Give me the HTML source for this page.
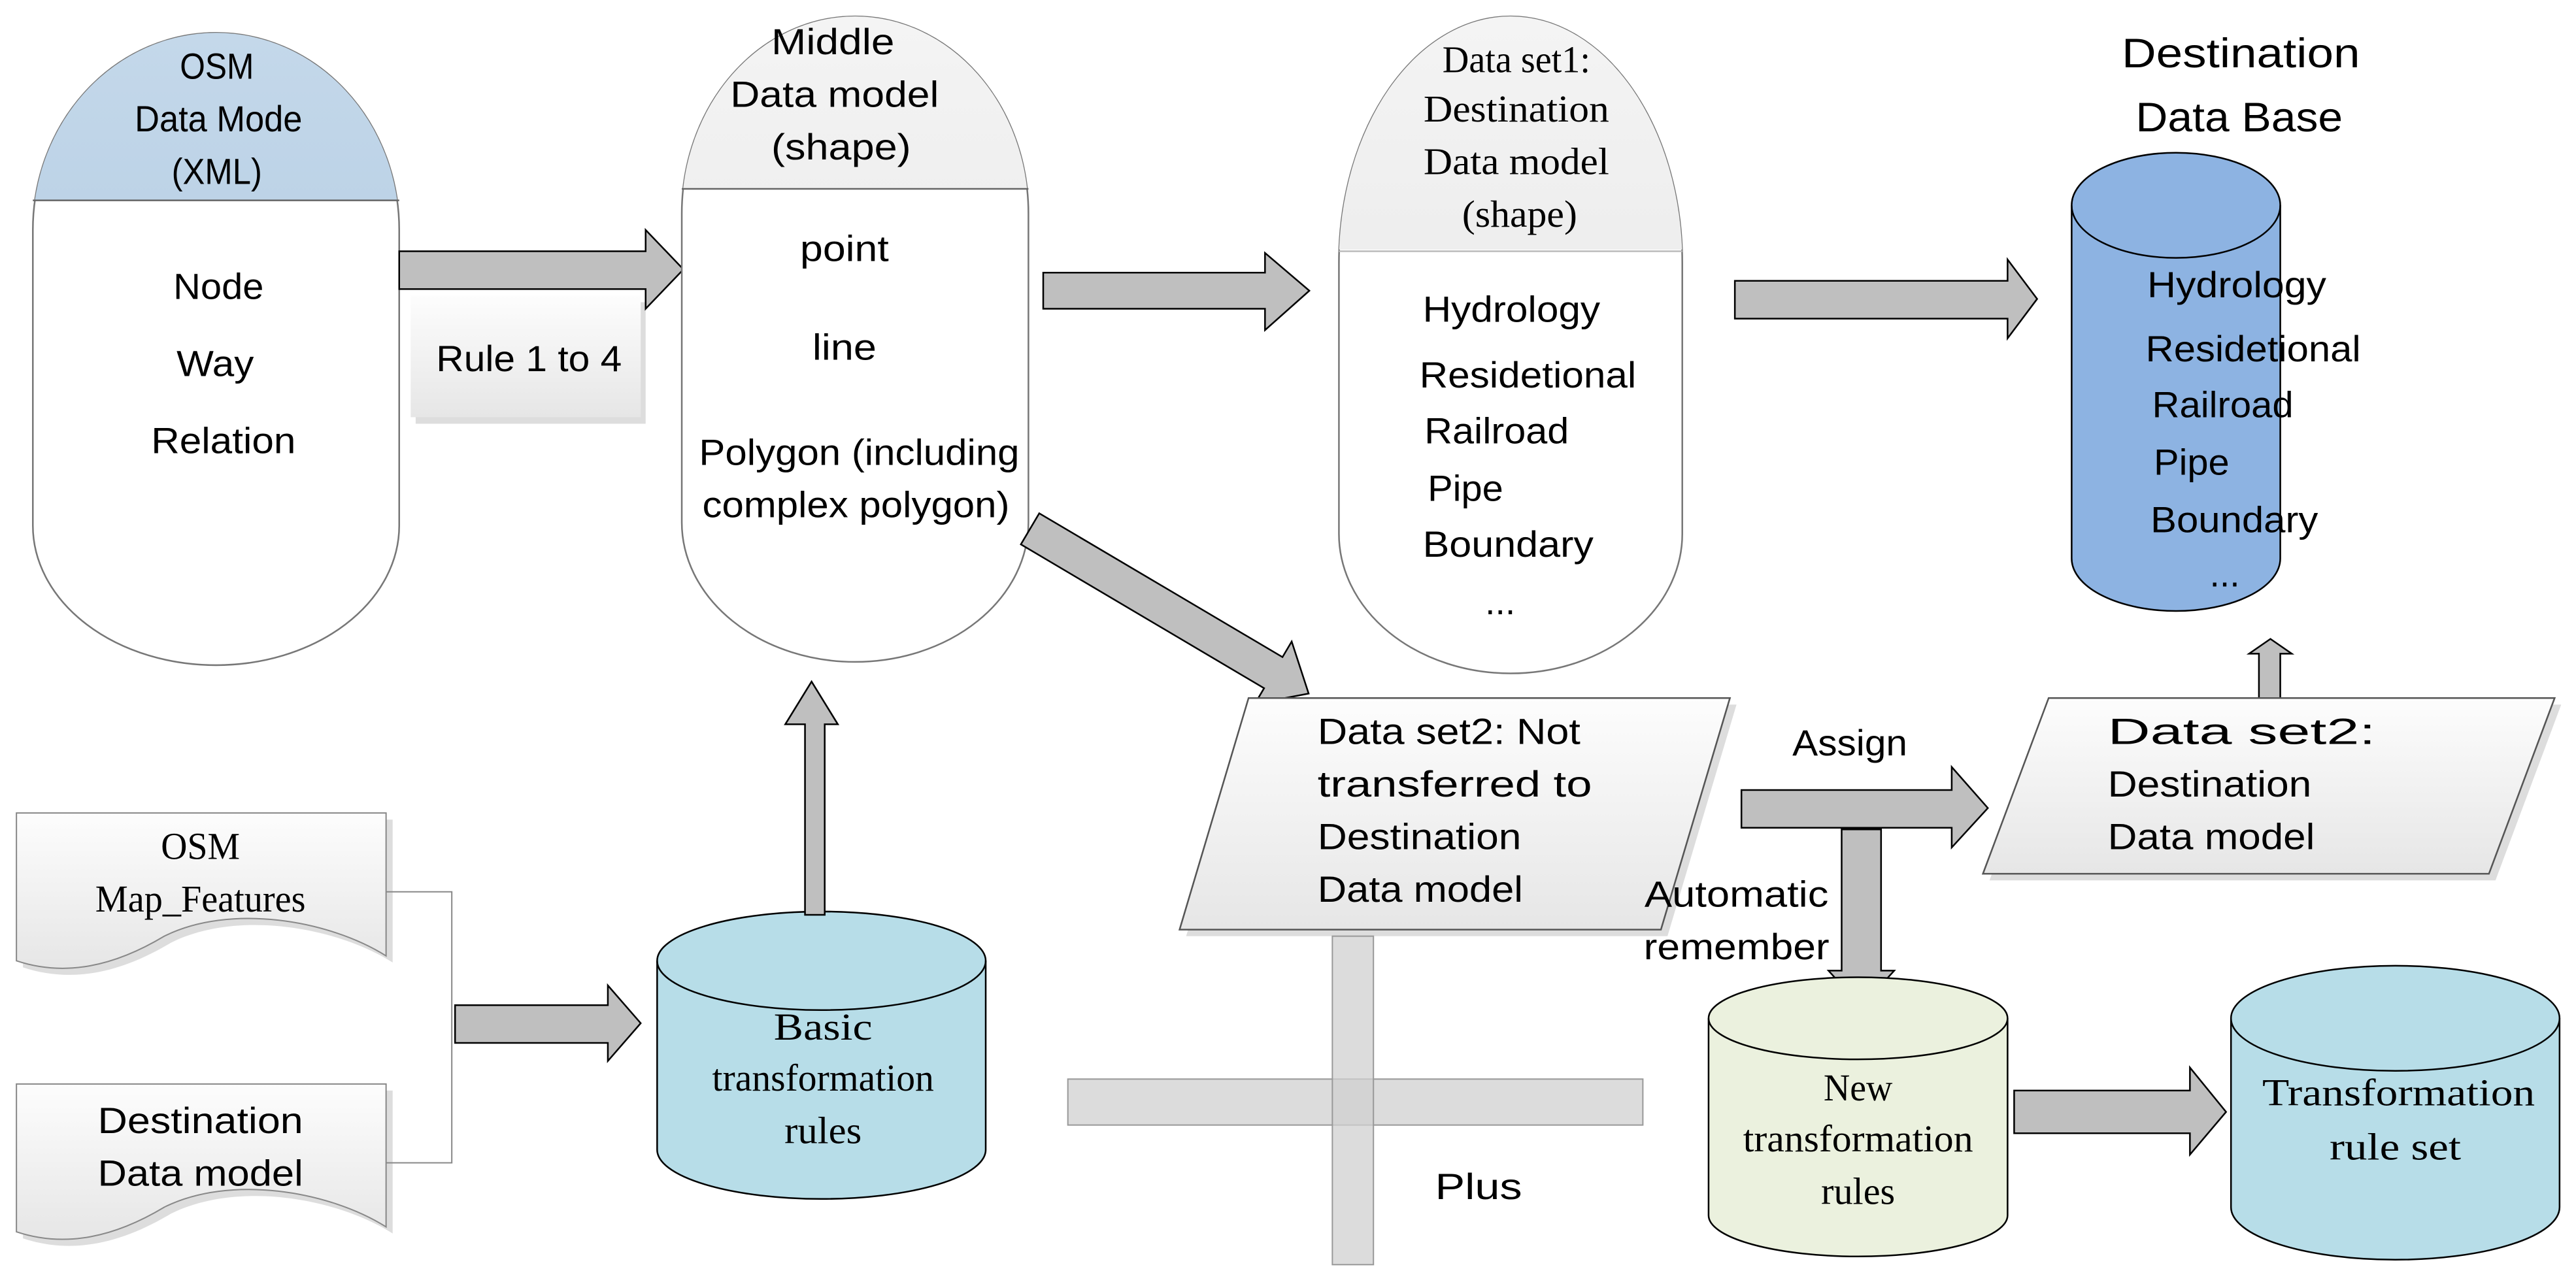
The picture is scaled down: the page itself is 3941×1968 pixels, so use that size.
<!DOCTYPE html>
<html><head><meta charset="utf-8"><style>
html,body{margin:0;padding:0;background:#fff;}
svg{display:block;}
text{font-family:"Liberation Sans Narrow","Liberation Sans",sans-serif;font-size:22px;fill:#000;}
.s{font-family:"Liberation Serif",serif;font-size:23px;}
.m{text-anchor:middle;}
</style></head><body>
<svg width="3941" height="1968" viewBox="0 0 1568 783" preserveAspectRatio="none" xmlns="http://www.w3.org/2000/svg">
<defs>
<linearGradient id="gb" x1="0" y1="0" x2="0" y2="1"><stop offset="0" stop-color="#c4d8ea"/><stop offset="1" stop-color="#a9c5de"/></linearGradient>
<linearGradient id="gg" x1="0" y1="0" x2="0" y2="1"><stop offset="0" stop-color="#f4f4f4"/><stop offset="1" stop-color="#e2e2e2"/></linearGradient>
<linearGradient id="gw" x1="0" y1="0" x2="0" y2="1"><stop offset="0" stop-color="#fdfdfd"/><stop offset="1" stop-color="#e6e6e6"/></linearGradient>
<clipPath id="c1"><rect x="0" y="0" width="300" height="122"/></clipPath>
<clipPath id="c2"><rect x="400" y="0" width="300" height="115"/></clipPath>
<clipPath id="c3"><rect x="800" y="0" width="300" height="152"/></clipPath>
</defs>

<!-- OSM pill -->
<path d="M20,140 A111.5,120 0 0 1 243,140 L243,320 A111.5,85 0 0 1 20,320 Z" fill="#fff" stroke="#777" stroke-width="1"/>
<path d="M20,140 A111.5,120 0 0 1 243,140 L243,320 A111.5,85 0 0 1 20,320 Z" fill="url(#gb)" clip-path="url(#c1)"/>
<line x1="20" y1="122" x2="243" y2="122" stroke="#666"/>
<text class="m" x="132" y="48" textLength="45" lengthAdjust="spacingAndGlyphs">OSM</text>
<text class="m" x="133" y="80" textLength="102" lengthAdjust="spacingAndGlyphs">Data Mode</text>
<text class="m" x="132" y="112" textLength="55" lengthAdjust="spacingAndGlyphs">(XML)</text>
<text class="m" x="133" y="182" textLength="55" lengthAdjust="spacingAndGlyphs">Node</text>
<text class="m" x="131" y="229" textLength="47" lengthAdjust="spacingAndGlyphs">Way</text>
<text class="m" x="136" y="276" textLength="88" lengthAdjust="spacingAndGlyphs">Relation</text>

<!-- Rule box -->
<rect x="253" y="184" width="140" height="74" fill="#ddd"/>
<rect x="250" y="180" width="140" height="74" fill="url(#gw)"/>
<text class="m" x="322" y="226" textLength="113" lengthAdjust="spacingAndGlyphs">Rule 1 to 4</text>
<polygon points="243,153 393,153 393,140 416,164 393,188 393,176 243,176" fill="#bfbfbf" stroke="#000"/>

<!-- Middle pill -->
<path d="M415,130 A105.5,120 0 0 1 626,130 L626,318 A105.5,85 0 0 1 415,318 Z" fill="#fff" stroke="#777"/>
<path d="M415,130 A105.5,120 0 0 1 626,130 L626,318 A105.5,85 0 0 1 415,318 Z" fill="url(#gg)" clip-path="url(#c2)"/>
<line x1="415" y1="115" x2="626" y2="115" stroke="#666"/>
<text class="m" x="507" y="33" textLength="75" lengthAdjust="spacingAndGlyphs">Middle</text>
<text class="m" x="508" y="65" textLength="127" lengthAdjust="spacingAndGlyphs">Data model</text>
<text class="m" x="512" y="97" textLength="85" lengthAdjust="spacingAndGlyphs">(shape)</text>
<text class="m" x="514" y="159" textLength="54" lengthAdjust="spacingAndGlyphs">point</text>
<text class="m" x="514" y="219" textLength="39" lengthAdjust="spacingAndGlyphs">line</text>
<text class="m" x="523" y="283" textLength="195" lengthAdjust="spacingAndGlyphs">Polygon (including</text>
<text class="m" x="521" y="315" textLength="187" lengthAdjust="spacingAndGlyphs">complex polygon)</text>

<polygon points="635,166 770,166 770,154 797,177 770,201 770,188 635,188" fill="#bfbfbf" stroke="#000"/>

<!-- Data set1 pill -->
<path d="M815,160 A104.5,150 0 0 1 1024,160 L1024,325 A104.5,85 0 0 1 815,325 Z" fill="#fff" stroke="#777"/>
<path d="M815,160 A104.5,150 0 0 1 1024,160 L1024,325 A104.5,85 0 0 1 815,325 Z" fill="url(#gg)" clip-path="url(#c3)"/>
<line x1="815" y1="153" x2="1024" y2="153" stroke="#bbb"/>
<text class="m s" x="923" y="44" textLength="90" lengthAdjust="spacingAndGlyphs">Data set1:</text>
<text class="m s" x="923" y="74" textLength="113" lengthAdjust="spacingAndGlyphs">Destination</text>
<text class="m s" x="923" y="106" textLength="113" lengthAdjust="spacingAndGlyphs">Data model</text>
<text class="m s" x="925" y="138" textLength="70" lengthAdjust="spacingAndGlyphs">(shape)</text>
<text x="866" y="196" textLength="108" lengthAdjust="spacingAndGlyphs">Hydrology</text>
<text x="864" y="236" textLength="132" lengthAdjust="spacingAndGlyphs">Residetional</text>
<text x="867" y="270" textLength="88" lengthAdjust="spacingAndGlyphs">Railroad</text>
<text x="869" y="305" textLength="46" lengthAdjust="spacingAndGlyphs">Pipe</text>
<text x="866" y="339" textLength="104" lengthAdjust="spacingAndGlyphs">Boundary</text>
<text x="904" y="374">...</text>

<polygon points="1056,171 1222,171 1222,158 1240,182 1222,206 1222,194 1056,194" fill="#bfbfbf" stroke="#000"/>

<!-- Destination DB -->
<text class="m" x="1364" y="41" style="font-size:25px" textLength="145" lengthAdjust="spacingAndGlyphs">Destination</text>
<text class="m" x="1363" y="80" style="font-size:25px" textLength="126" lengthAdjust="spacingAndGlyphs">Data Base</text>
<path d="M1261,125 A63.5,32 0 0 1 1388,125 L1388,340 A63.5,32 0 0 1 1261,340 Z" fill="#8db3e2" stroke="#000"/>
<path d="M1261,125 A63.5,32 0 0 0 1388,125" fill="none" stroke="#000"/>
<text x="1307" y="181" textLength="109" lengthAdjust="spacingAndGlyphs">Hydrology</text>
<text x="1306" y="220" textLength="131" lengthAdjust="spacingAndGlyphs">Residetional</text>
<text x="1310" y="254" textLength="86" lengthAdjust="spacingAndGlyphs">Railroad</text>
<text x="1311" y="289" textLength="46" lengthAdjust="spacingAndGlyphs">Pipe</text>
<text x="1309" y="324" textLength="102" lengthAdjust="spacingAndGlyphs">Boundary</text>
<text x="1345" y="357">...</text>
<polygon points="1375,425 1375,398 1369,398 1382,389 1395,398 1388,398 1388,425" fill="#bfbfbf" stroke="#000"/>

<!-- diag arrow -->
<g transform="translate(627,322) rotate(30.6)">
<polygon points="0,-11 172,-11 172,-22 197,0 172,22 172,11 0,11" fill="#bfbfbf" stroke="#000"/>
</g>

<!-- Data set2 left -->
<polygon points="764,429 1057,429 1015,570 722,570" fill="#ddd"/>
<polygon points="760,425 1053,425 1011,566 718,566" fill="url(#gw)" stroke="#555"/>
<text x="802" y="453" textLength="160" lengthAdjust="spacingAndGlyphs">Data set2: Not</text>
<text x="802" y="485" textLength="167" lengthAdjust="spacingAndGlyphs">transferred to</text>
<text x="802" y="517" textLength="124" lengthAdjust="spacingAndGlyphs">Destination</text>
<text x="802" y="549" textLength="125" lengthAdjust="spacingAndGlyphs">Data model</text>

<!-- Data set2 right -->
<polygon points="1251,429 1559,429 1519,536 1211,536" fill="#ddd"/>
<polygon points="1247,425 1555,425 1515,532 1207,532" fill="url(#gw)" stroke="#555"/>
<text x="1283" y="453" textLength="163" lengthAdjust="spacingAndGlyphs">Data set2:</text>
<text x="1283" y="485" textLength="124" lengthAdjust="spacingAndGlyphs">Destination</text>
<text x="1283" y="517" textLength="126" lengthAdjust="spacingAndGlyphs">Data model</text>

<!-- Assign arrow -->
<text class="m" x="1126" y="460" textLength="70" lengthAdjust="spacingAndGlyphs">Assign</text>
<polygon points="1060,481 1188,481 1188,467 1210,492 1188,516 1188,504 1060,504" fill="#bfbfbf" stroke="#000"/>
<polygon points="1121,505 1145,505 1145,591 1153,591 1133,613 1113,591 1121,591" fill="#bfbfbf" stroke="#000"/>
<text class="m" x="1057" y="552" textLength="112" lengthAdjust="spacingAndGlyphs">Automatic</text>
<text class="m" x="1057" y="584" textLength="113" lengthAdjust="spacingAndGlyphs">remember</text>

<!-- New rules cylinder -->
<path d="M1040,620 A91,25 0 0 1 1222,620 L1222,740 A91,25 0 0 1 1040,740 Z" fill="#ebf1de" stroke="#000"/>
<path d="M1040,620 A91,25 0 0 0 1222,620" fill="none" stroke="#000"/>
<text class="m s" x="1131" y="670" textLength="42" lengthAdjust="spacingAndGlyphs">New</text>
<text class="m s" x="1131" y="701" textLength="140" lengthAdjust="spacingAndGlyphs">transformation</text>
<text class="m s" x="1131" y="733" textLength="45" lengthAdjust="spacingAndGlyphs">rules</text>

<polygon points="1226,664 1333,664 1333,650 1355,677 1333,703 1333,690 1226,690" fill="#bfbfbf" stroke="#000"/>

<!-- Transformation rule set -->
<path d="M1358,620 A100,32 0 0 1 1558,620 L1558,735 A100,32 0 0 1 1358,735 Z" fill="#b7dde8" stroke="#000"/>
<path d="M1358,620 A100,32 0 0 0 1558,620" fill="none" stroke="#000"/>
<text class="m s" x="1460" y="673" textLength="166" lengthAdjust="spacingAndGlyphs">Transformation</text>
<text class="m s" x="1458" y="706" textLength="80" lengthAdjust="spacingAndGlyphs">rule set</text>

<!-- Plus -->
<rect x="650" y="657" width="350" height="28" fill="#d0d0d0" fill-opacity="0.75" stroke="#999" stroke-width="0.8"/>
<rect x="811" y="570" width="25" height="200" fill="#d0d0d0" fill-opacity="0.75" stroke="#999" stroke-width="0.8"/>
<text class="m" x="900" y="730" textLength="53" lengthAdjust="spacingAndGlyphs">Plus</text>

<!-- Basic cylinder -->
<path d="M400,585 A100,30 0 0 1 600,585 L600,700 A100,30 0 0 1 400,700 Z" fill="#b7dde8" stroke="#000"/>
<path d="M400,585 A100,30 0 0 0 600,585" fill="none" stroke="#000"/>
<text class="m s" x="501" y="633" textLength="60" lengthAdjust="spacingAndGlyphs">Basic</text>
<text class="m s" x="501" y="664" textLength="135" lengthAdjust="spacingAndGlyphs">transformation</text>
<text class="m s" x="501" y="696" textLength="47" lengthAdjust="spacingAndGlyphs">rules</text>
<polygon points="490,557 490,441 478,441 494,415 510,441 502,441 502,557" fill="#bfbfbf" stroke="#000"/>

<!-- docs -->
<path d="M14,499 H239 V586 C204,564 144,554 104,574 C74,592 44,599 14,589 Z" fill="#ddd"/>
<path d="M10,495 H235 V582 C200,560 140,550 100,570 C70,588 40,595 10,585 Z" fill="url(#gw)" stroke="#888" stroke-width="0.8"/>
<text class="m s" x="122" y="523" textLength="48" lengthAdjust="spacingAndGlyphs">OSM</text>
<text class="m s" x="122" y="555" textLength="128" lengthAdjust="spacingAndGlyphs">Map_Features</text>
<path d="M14,664 H239 V751 C204,729 144,719 104,739 C74,757 44,764 14,754 Z" fill="#ddd"/>
<path d="M10,660 H235 V747 C200,725 140,715 100,735 C70,753 40,760 10,750 Z" fill="url(#gw)" stroke="#888" stroke-width="0.8"/>
<text class="m" x="122" y="690" textLength="125" lengthAdjust="spacingAndGlyphs">Destination</text>
<text class="m" x="122" y="722" textLength="125" lengthAdjust="spacingAndGlyphs">Data model</text>
<polyline points="235,543 275,543 275,708 235,708" fill="none" stroke="#888" stroke-width="0.8"/>
<polygon points="277,612 370,612 370,600 390,623 370,646 370,635 277,635" fill="#bfbfbf" stroke="#000"/>
</svg>
</body></html>
